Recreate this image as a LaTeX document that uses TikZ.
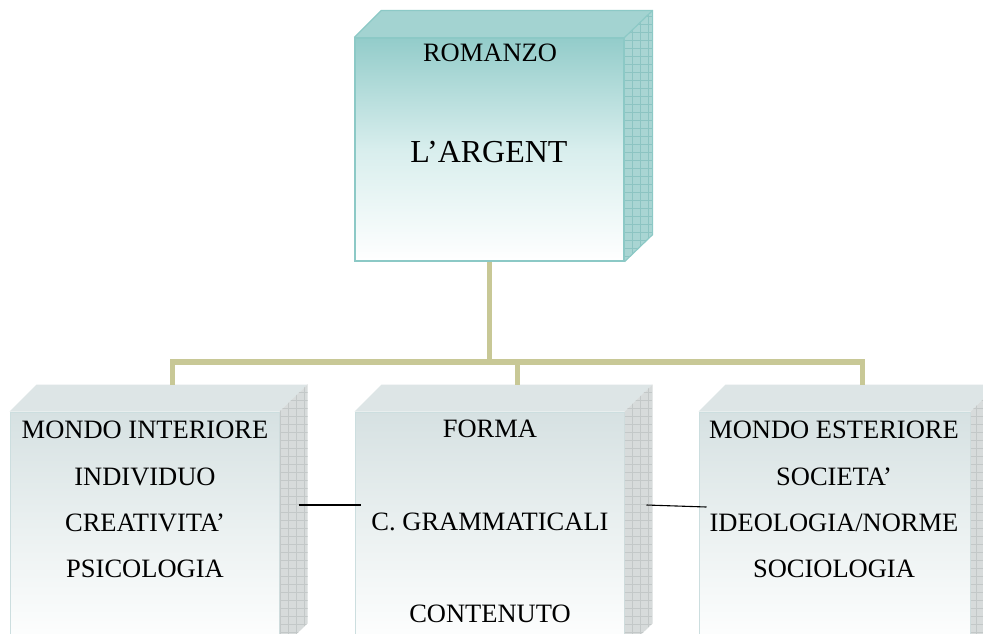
\documentclass[tikz,border=0pt]{standalone}
\usepackage{fontspec}
\setmainfont{Liberation Serif}
\usetikzlibrary{calc}
\definecolor{tealtop}{HTML}{93CCCA}
\definecolor{tealmid}{HTML}{D8EEED}
\definecolor{tealface}{HTML}{A3D3D1}
\definecolor{tealside}{HTML}{A9D5D3}
\definecolor{tealgrid}{HTML}{8CC4C2}
\definecolor{tealline}{HTML}{8CC9C6}
\definecolor{greytop}{HTML}{D6E1E2}
\definecolor{greymid}{HTML}{EBF1F1}
\definecolor{greyface}{HTML}{DDE5E6}
\definecolor{greyside}{HTML}{D7DBDB}
\definecolor{greygrid}{HTML}{C3C8C8}
\definecolor{greyline}{HTML}{CCDEDF}
\definecolor{olive}{HTML}{C8C896}
\newcommand\boxfaces[4]{%
  % #1 node, #2 top-face colour, #3 side colour, #4 grid colour
  \fill[#2] (#1.north west) -- ++(27,-27) -- ($(#1.north east)+(28,-27)$) -- (#1.north east) -- cycle;
  \fill[#3] (#1.north east) -- ++(28,-27) -- ($(#1.south east)+(28,-27)$) -- (#1.south east) -- cycle;
  \begin{scope}
    \clip (#1.north east) -- ++(28,-27) -- ($(#1.south east)+(28,-27)$) -- (#1.south east) -- cycle;
    \draw[#4, line width=0.5pt, step=8pt] ($(#1.south east)+(0,20)$) grid ($(#1.north east)+(28,-30)$);
  \end{scope}
}
\begin{document}
\begin{tikzpicture}[x=1pt,y=-1pt,
  topbox/.style={draw=tealline, line width=1.2pt, minimum width=269pt, minimum height=223pt,
    inner sep=0pt, top color=tealtop, bottom color=white, middle color=tealmid},
  lowbox/.style={draw=greyline, line width=1pt, minimum width=269pt, minimum height=238pt,
    inner sep=0pt, top color=greytop, bottom color=white, middle color=greymid},
  txt/.style={align=center, inner sep=0pt, font=\fontsize{26.5}{46.3}\selectfont},
  txtwide/.style={align=center, inner sep=0pt, font=\fontsize{26.5}{92.5}\selectfont},
  conn/.style={draw=olive, line width=5.5pt},
  link/.style={draw=black, line width=1.1pt}]
\useasboundingbox (0,0) rectangle (983,633);
\clip (0,0) rectangle (983,633);
\fill[white] (0,0) rectangle (983,633);

% boxes
\node[topbox] (top) at (489.5,149.5) {};
\node[lowbox] (left) at (144.5,531) {};
\node[lowbox] (middle) at (489.5,531) {};
\node[lowbox, minimum width=271pt] (right) at (834.5,531) {};

\boxfaces{top}{tealface}{tealside}{tealgrid}
\boxfaces{left}{greyface}{greyside}{greygrid}
\boxfaces{middle}{greyface}{greyside}{greygrid}
\boxfaces{right}{greyface}{greyside}{greygrid}

\draw[tealline, line width=1.2pt] (top.north west) -- ++(27,-27) -- ($(top.north east)+(28,-27)$) -- ($(top.south east)+(28,-27)$) -- (top.south east);
\draw[tealline, line width=1.2pt] (top.north east) -- ++(28,-27);
\draw[tealline, line width=1.2pt] (top.north west) rectangle (top.south east);

% texts
\node[inner sep=0pt, font=\fontsize{26.5}{30}\selectfont] (t1) at (490,53) {ROMANZO};
\node[inner sep=0pt, font=\fontsize{32}{36}\selectfont] (t2) at (489,152) {L’ARGENT};
\node[txt] (lt) at (145,499.5) {MONDO INTERIORE\\INDIVIDUO\\CREATIVITA’\\PSICOLOGIA};
\node[txtwide] (mt) at (490,521.5) {FORMA\\C. GRAMMATICALI\\CONTENUTO};
\node[txt] (rt) at (834,499.5) {MONDO ESTERIORE\\SOCIETA’\\IDEOLOGIA/NORME\\SOCIOLOGIA};

% connectors
\coordinate (bus) at (490,362);
\coordinate (lback) at ($(left.north)+(28,-27)$);
\coordinate (mback) at ($(middle.north)+(28,-27)$);
\coordinate (rback) at ($(right.north)+(28,-27)$);
\draw[conn] (top.south) -- (top.south |- bus);
\draw[conn] (lback) -- (lback |- bus) -- (rback |- bus) -- (rback);
\draw[conn] (mback) -- (mback |- bus);

% thin links
\draw[link] ([xshift=19pt,yshift=26pt]left.east) -- ([xshift=6pt,yshift=26pt]middle.west);
\draw[link] ([xshift=22pt,yshift=26pt]middle.east) -- ([xshift=8pt,yshift=24pt]right.west);
\end{tikzpicture}
\end{document}
